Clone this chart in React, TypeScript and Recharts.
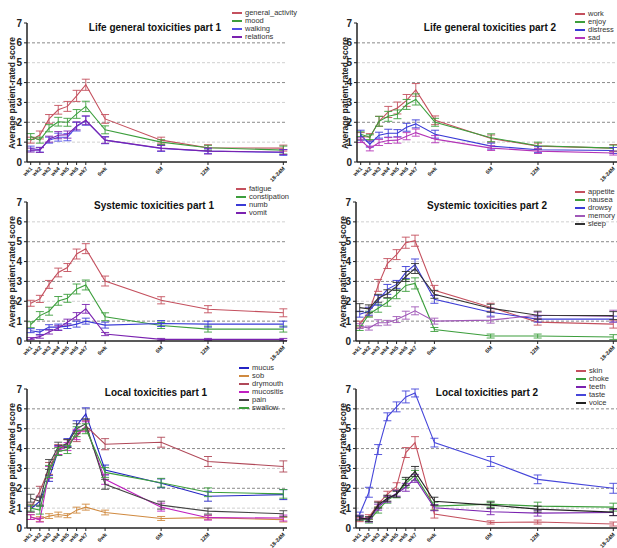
import React from "react";
import { ErrorBar, Legend, Line, LineChart, ReferenceLine, XAxis, YAxis } from "recharts";

// time points: labels and their position on the (uneven) time axis
const timeLabels = ["wk1", "wk2", "wk3", "wk4", "wk5", "wk6", "wk7", "6wk", "6M", "12M", "18-24M"];
const timePos = [1, 2, 3, 4, 5, 6, 7, 9.1, 15.2, 20.3, 28.5];
const yTicks = [0, 1, 2, 3, 4, 5, 6, 7];

// Life general toxicities part 1
const generalActivity = [1.1, 1.36, 2.17, 2.63, 2.8, 3.33, 3.89, 2.17, 1.1, 0.72, 0.7];
const generalActivityErr = [0.15, 0.2, 0.22, 0.22, 0.25, 0.28, 0.28, 0.22, 0.15, 0.15, 0.15];
const mood = [1.28, 1.1, 1.7, 2.03, 2.0, 2.42, 2.8, 1.62, 1.0, 0.72, 0.6];
const moodErr = [0.15, 0.15, 0.18, 0.22, 0.2, 0.22, 0.26, 0.2, 0.12, 0.12, 0.2];
const walking = [0.68, 0.62, 1.1, 1.25, 1.25, 1.78, 2.08, 1.1, 0.68, 0.55, 0.48];
const walkingErr = [0.12, 0.12, 0.15, 0.2, 0.18, 0.22, 0.23, 0.18, 0.15, 0.12, 0.15];
const relations = [0.6, 0.6, 1.15, 1.35, 1.38, 1.82, 2.1, 1.1, 0.7, 0.55, 0.5];
const relationsErr = [0.1, 0.12, 0.15, 0.18, 0.18, 0.2, 0.22, 0.16, 0.14, 0.15, 0.12];

// Life general toxicities part 2
const work = [1.3, 1.25, 2.05, 2.52, 2.72, 3.1, 3.63, 2.1, 1.18, 0.8, 0.7];
const workErr = [0.18, 0.18, 0.25, 0.28, 0.3, 0.3, 0.32, 0.22, 0.18, 0.15, 0.18];
const enjoy = [1.4, 1.25, 2.05, 2.3, 2.4, 2.9, 3.15, 2.0, 1.22, 0.82, 0.7];
const enjoyErr = [0.12, 0.12, 0.25, 0.25, 0.22, 0.25, 0.28, 0.2, 0.2, 0.18, 0.15];
const distress = [1.35, 0.9, 1.35, 1.45, 1.45, 1.75, 1.92, 1.4, 0.8, 0.62, 0.58];
const distressErr = [0.25, 0.15, 0.15, 0.2, 0.18, 0.2, 0.2, 0.2, 0.15, 0.15, 0.15];
const sad = [1.1, 0.68, 0.98, 1.08, 1.1, 1.3, 1.48, 1.15, 0.7, 0.55, 0.45];
const sadErr = [0.12, 0.12, 0.15, 0.15, 0.15, 0.18, 0.18, 0.18, 0.12, 0.12, 0.1];

// Systemic toxicities part 1
const fatigue = [1.9, 2.12, 2.85, 3.45, 3.7, 4.38, 4.65, 3.02, 2.05, 1.6, 1.42];
const fatigueErr = [0.15, 0.18, 0.2, 0.22, 0.2, 0.25, 0.25, 0.25, 0.18, 0.18, 0.2];
const constipation = [0.82, 1.28, 1.5, 2.02, 2.15, 2.62, 2.82, 1.22, 0.78, 0.6, 0.6];
const constipationErr = [0.15, 0.2, 0.2, 0.22, 0.2, 0.25, 0.25, 0.2, 0.15, 0.15, 0.15];
const numb = [0.52, 0.45, 0.7, 0.7, 0.75, 0.85, 1.0, 0.8, 0.88, 0.85, 0.85];
const numbErr = [0.1, 0.12, 0.12, 0.15, 0.12, 0.15, 0.15, 0.15, 0.15, 0.15, 0.15];
const vomit = [0.12, 0.22, 0.45, 0.65, 0.95, 1.25, 1.62, 0.35, 0.08, 0.08, 0.08];
const vomitErr = [0.05, 0.08, 0.1, 0.12, 0.15, 0.18, 0.22, 0.08, 0.05, 0.05, 0.05];

// Systemic toxicities part 2
const appetite = [0.85, 1.45, 2.8, 3.9, 4.35, 4.95, 5.05, 2.55, 1.7, 0.95, 0.85];
const appetiteErr = [0.15, 0.2, 0.3, 0.25, 0.25, 0.28, 0.28, 0.25, 0.2, 0.15, 0.2];
const nausea = [0.65, 1.35, 1.65, 1.95, 2.35, 2.8, 2.9, 0.58, 0.25, 0.25, 0.2];
const nauseaErr = [0.12, 0.15, 0.2, 0.2, 0.22, 0.3, 0.28, 0.1, 0.1, 0.1, 0.12];
const drowsy = [1.35, 1.5, 2.05, 2.6, 2.85, 3.45, 3.85, 2.1, 1.45, 1.1, 1.1];
const drowsyErr = [0.15, 0.2, 0.25, 0.25, 0.2, 0.3, 0.28, 0.2, 0.2, 0.15, 0.15];
const memory = [0.75, 0.65, 0.92, 0.92, 1.08, 1.3, 1.52, 1.0, 1.05, 1.3, 1.25];
const memoryErr = [0.12, 0.1, 0.15, 0.12, 0.15, 0.2, 0.2, 0.15, 0.15, 0.15, 0.3];
const sleep = [1.68, 1.62, 2.15, 2.38, 2.75, 3.25, 3.65, 2.35, 1.65, 1.3, 1.28];
const sleepErr = [0.2, 0.2, 0.2, 0.2, 0.2, 0.25, 0.25, 0.2, 0.2, 0.2, 0.2];

// Local toxicities part 1
const mucus = [0.95, 1.35, 2.5, 3.9, 4.3, 5.15, 5.75, 2.92, 2.25, 1.6, 1.68];
const mucusErr = [0.15, 0.25, 0.15, 0.25, 0.2, 0.25, 0.3, 0.25, 0.22, 0.25, 0.25];
const sob = [0.55, 0.45, 0.6, 0.68, 0.62, 0.9, 1.05, 0.78, 0.48, 0.52, 0.42];
const sobErr = [0.12, 0.12, 0.12, 0.12, 0.1, 0.15, 0.15, 0.12, 0.1, 0.1, 0.12];
const drymouth = [1.0, 1.85, 3.0, 3.95, 4.25, 4.6, 5.15, 4.22, 4.32, 3.35, 3.1];
const drymouthErr = [0.2, 0.25, 0.3, 0.25, 0.2, 0.25, 0.25, 0.28, 0.25, 0.25, 0.28];
const mucositis = [0.55, 0.4, 2.8, 3.9, 4.1, 4.7, 5.1, 2.45, 1.05, 0.52, 0.5];
const mucositisErr = [0.12, 0.1, 0.3, 0.2, 0.2, 0.25, 0.25, 0.25, 0.2, 0.12, 0.15];
const pain = [1.5, 1.35, 3.2, 4.1, 4.25, 5.0, 5.25, 2.2, 1.15, 0.85, 0.72];
const painErr = [0.2, 0.2, 0.25, 0.22, 0.2, 0.25, 0.25, 0.25, 0.2, 0.15, 0.15];
const swallow = [1.0, 0.9, 2.85, 3.85, 3.95, 4.85, 5.0, 2.8, 2.28, 1.8, 1.72];
const swallowErr = [0.15, 0.2, 0.3, 0.2, 0.2, 0.25, 0.25, 0.25, 0.22, 0.22, 0.22];

// Local toxicities part 2
const skin = [0.42, 0.55, 1.2, 1.7, 2.1, 3.8, 4.3, 0.7, 0.28, 0.3, 0.2];
const skinErr = [0.1, 0.12, 0.15, 0.15, 0.18, 0.25, 0.3, 0.2, 0.08, 0.1, 0.1];
const choke = [0.5, 0.35, 0.9, 1.4, 1.7, 2.25, 2.65, 1.1, 1.2, 1.1, 1.05];
const chokeErr = [0.1, 0.1, 0.15, 0.15, 0.18, 0.2, 0.25, 0.2, 0.15, 0.2, 0.2];
const teeth = [0.55, 0.4, 1.05, 1.45, 1.75, 2.05, 2.5, 1.02, 0.82, 0.75, 0.78];
const teethErr = [0.1, 0.1, 0.15, 0.15, 0.15, 0.2, 0.2, 0.15, 0.15, 0.15, 0.15];
const taste = [0.7, 1.8, 3.95, 5.6, 6.1, 6.6, 6.8, 4.3, 3.35, 2.45, 2.0];
const tasteErr = [0.1, 0.25, 0.25, 0.2, 0.25, 0.3, 0.2, 0.22, 0.25, 0.22, 0.25];
const voice = [0.5, 0.45, 1.15, 1.5, 1.7, 2.35, 2.85, 1.35, 1.15, 0.95, 0.8];
const voiceErr = [0.1, 0.12, 0.15, 0.15, 0.15, 0.2, 0.25, 0.2, 0.15, 0.15, 0.18];

const FONT = "'Liberation Sans', Arial, sans-serif";
const RED = "#c4505e";
const GREEN = "#3c9e3c";
const BLUE = "#3a3ad6";
const PURPLE = "#7a22b0";
const MAGENTA = "#b434b8";
const BLACK = "#333333";

// extra room under the x axis so rotated labels are not clipped
const X_AXIS_H = 18;
const EXTRA_BOTTOM = 12;
const LEGEND_ROW = 8;

type Series = { key: string; name: string; color: string; values: number[]; errors: number[] };

type Panel = {
	title: string;
	left: number;
	top: number;
	width: number;
	height: number;
	marginTop: number;
	marginRight: number;
	yAxisWidth: number;
	titleX: number;
	titleY: number;
	yLabelX: number;
	legendX: number;
	legendY: number;
	darkEven: boolean;
	series: Series[];
};

const s = (key: string, name: string, color: string, values: number[], errors: number[]): Series => ({
	key,
	name,
	color,
	values,
	errors,
});

const panels: Panel[] = [
	{
		title: "Life general toxicities part 1",
		left: 0, top: 0, width: 300, height: 180, marginTop: 23, marginRight: 13, yAxisWidth: 27,
		titleX: 155, titleY: 29, yLabelX: 12, legendX: 232, legendY: 9, darkEven: true,
		series: [
			s("generalActivity", "general_activity", RED, generalActivity, generalActivityErr),
			s("mood", "mood", GREEN, mood, moodErr),
			s("walking", "walking", "#4f4fe6", walking, walkingErr),
			s("relations", "relations", PURPLE, relations, relationsErr),
		],
	},
	{
		title: "Life general toxicities part 2",
		left: 308, top: 0, width: 309, height: 180, marginTop: 23, marginRight: 0, yAxisWidth: 49,
		titleX: 490, titleY: 29, yLabelX: 345, legendX: 575, legendY: 10, darkEven: true,
		series: [
			s("work", "work", RED, work, workErr),
			s("enjoy", "enjoy", GREEN, enjoy, enjoyErr),
			s("distress", "distress", BLUE, distress, distressErr),
			s("sad", "sad", MAGENTA, sad, sadErr),
		],
	},
	{
		title: "Systemic toxicities part 1",
		left: 0, top: 180, width: 300, height: 179, marginTop: 22, marginRight: 13, yAxisWidth: 27,
		titleX: 154, titleY: 207, yLabelX: 12, legendX: 236, legendY: 185, darkEven: false,
		series: [
			s("fatigue", "fatigue", RED, fatigue, fatigueErr),
			s("constipation", "constipation", GREEN, constipation, constipationErr),
			s("numb", "numb", BLUE, numb, numbErr),
			s("vomit", "vomit", PURPLE, vomit, vomitErr),
		],
	},
	{
		title: "Systemic toxicities part 2",
		left: 308, top: 180, width: 309, height: 179, marginTop: 22, marginRight: 0, yAxisWidth: 48,
		titleX: 487, titleY: 207, yLabelX: 343, legendX: 575, legendY: 188, darkEven: false,
		series: [
			s("appetite", "appetite", RED, appetite, appetiteErr),
			s("nausea", "nausea", GREEN, nausea, nauseaErr),
			s("drowsy", "drowsy", BLUE, drowsy, drowsyErr),
			s("memory", "memory", "#a058b8", memory, memoryErr),
			s("sleep", "sleep", BLACK, sleep, sleepErr),
		],
	},
	{
		title: "Local toxicities part 1",
		left: 0, top: 360, width: 300, height: 186, marginTop: 29, marginRight: 13, yAxisWidth: 27,
		titleX: 156, titleY: 394, yLabelX: 12, legendX: 239, legendY: 364, darkEven: true,
		series: [
			s("mucus", "mucus", "#2424c4", mucus, mucusErr),
			s("sob", "sob", "#d08a40", sob, sobErr),
			s("drymouth", "drymouth", "#b04858", drymouth, drymouthErr),
			s("mucositis", "mucositis", "#c020c0", mucositis, mucositisErr),
			s("pain", "pain", "#444444", pain, painErr),
			s("swallow", "swallow", GREEN, swallow, swallowErr),
		],
	},
	{
		title: "Local toxicities part 2",
		left: 308, top: 360, width: 309, height: 186, marginTop: 29, marginRight: 0, yAxisWidth: 48,
		titleX: 487, titleY: 394, yLabelX: 343, legendX: 576, legendY: 367, darkEven: true,
		series: [
			s("skin", "skin", RED, skin, skinErr),
			s("choke", "choke", GREEN, choke, chokeErr),
			s("teeth", "teeth", PURPLE, teeth, teethErr),
			s("taste", "taste", "#4646da", taste, tasteErr),
			s("voice", "voice", "#222222", voice, voiceErr),
		],
	},
];

const XTick = (props: any) => {
	const { x, y, payload } = props;
	const idx = timePos.indexOf(payload.value);
	return (
		<text
			x={x + 1}
			y={y + 1}
			transform={`rotate(-45, ${x + 1}, ${y + 1})`}
			textAnchor="end"
			dominantBaseline="middle"
			fontSize={5.5}
			fontWeight="bold"
			fontFamily={FONT}
			fill="#222"
		>
			{timeLabels[idx]}
		</text>
	);
};

const LegendBox = ({ series }: { series: Series[] }) => (
	<div style={{ fontFamily: FONT, fontSize: 7.5, color: "#333", lineHeight: `${LEGEND_ROW}px` }}>
		{series.map((it) => (
			<div key={it.key} style={{ display: "flex", alignItems: "center", height: LEGEND_ROW, whiteSpace: "nowrap" }}>
				<div style={{ width: 10, height: 1.2, background: it.color, marginRight: 3 }} />
				<span>{it.name}</span>
			</div>
		))}
	</div>
);

function PanelChart({ p }: { p: Panel }) {
	const rows = timePos.map((x, i) => {
		const row: Record<string, number> = { x };
		p.series.forEach((it) => {
			row[it.key] = it.values[i];
			row[it.key + "Err"] = it.errors[i];
		});
		return row;
	});
	const plotTop = p.top + p.marginTop;
	const plotBottom = p.top + p.height - X_AXIS_H;
	return (
		<>
			<div style={{ position: "absolute", left: p.left, top: p.top }}>
				<LineChart
					width={p.width}
					height={p.height + EXTRA_BOTTOM}
					data={rows}
					margin={{ top: p.marginTop, right: p.marginRight, bottom: EXTRA_BOTTOM, left: 0 }}
				>
					{[1, 2, 3, 4, 5, 6].map((v) => {
						const dark = (v % 2 === 0) === p.darkEven;
						return (
							<ReferenceLine
								key={v}
								y={v}
								stroke={dark ? "#8a8a8a" : "#d0d0d0"}
								strokeDasharray="3 2"
								strokeWidth={1}
							/>
						);
					})}
					<XAxis
						type="number"
						dataKey="x"
						domain={[0.6, 28.9]}
						ticks={timePos}
						interval={0}
						allowDataOverflow
						height={X_AXIS_H}
						tickSize={3}
						tick={<XTick />}
						axisLine={{ stroke: "#222", strokeWidth: 1.5 }}
						tickLine={{ stroke: "#222" }}
					/>
					<YAxis
						domain={[0, 7]}
						ticks={yTicks}
						width={p.yAxisWidth}
						tickSize={3}
						tick={{ fontSize: 10, fontWeight: "bold", fill: "#222", fontFamily: FONT }}
						axisLine={{ stroke: "#222", strokeWidth: 1.5 }}
						tickLine={{ stroke: "#222" }}
					/>
					<Legend
						layout="horizontal"
						align="center"
						verticalAlign="middle"
						wrapperStyle={{ left: p.legendX - p.left, top: p.legendY - p.top, width: "auto" }}
						content={() => <LegendBox series={p.series} />}
					/>
					{p.series.map((it) => (
						<Line
							key={it.key}
							dataKey={it.key}
							name={it.name}
							stroke={it.color}
							strokeWidth={1.1}
							dot={false}
							isAnimationActive={false}
						>
							<ErrorBar dataKey={it.key + "Err"} width={4} strokeWidth={0.9} stroke={it.color} direction="y" />
						</Line>
					))}
				</LineChart>
			</div>
			<div
				style={{
					position: "absolute",
					left: p.titleX - 100,
					top: p.titleY - 7,
					width: 200,
					textAlign: "center",
					fontFamily: FONT,
					fontWeight: "bold",
					fontSize: 10,
					color: "#111",
					whiteSpace: "nowrap",
				}}
			>
				{p.title}
			</div>
			<div
				style={{
					position: "absolute",
					left: p.yLabelX - 80,
					top: (plotTop + plotBottom) / 2 - 6,
					width: 160,
					height: 12,
					lineHeight: "12px",
					textAlign: "center",
					transform: "rotate(-90deg)",
					fontFamily: FONT,
					fontWeight: "bold",
					fontSize: 8.5,
					color: "#222",
					whiteSpace: "nowrap",
				}}
			>
				Average patient-rated score
			</div>
		</>
	);
}

export default function App() {
	return (
		<div style={{ position: "absolute", left: 0, top: 0, width: 617, height: 548, background: "#fff", overflow: "hidden" }}>
			{panels.map((p) => (
				<PanelChart key={p.title} p={p} />
			))}
		</div>
	);
}
